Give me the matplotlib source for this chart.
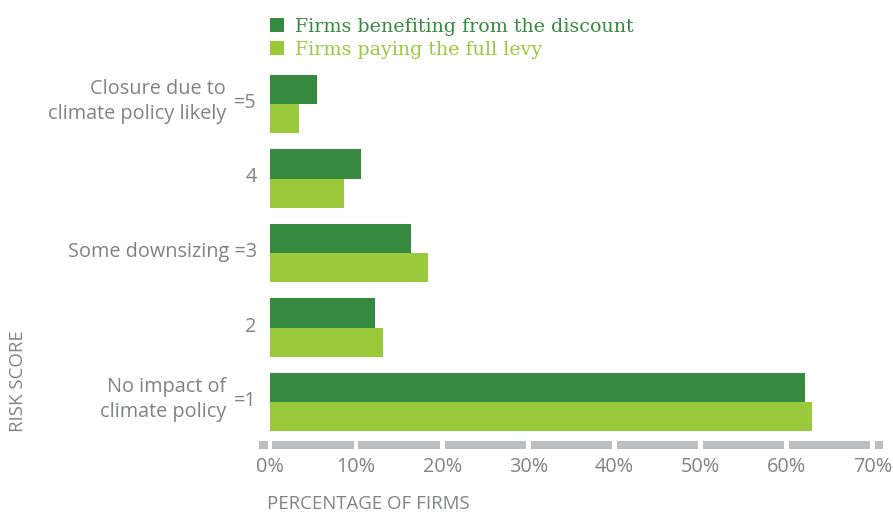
import matplotlib
matplotlib.use("Agg")
import matplotlib.pyplot as plt
from matplotlib.patches import Patch
from matplotlib.transforms import blended_transform_factory, ScaledTranslation

# Risk scores, top to bottom
score_labels = ["=5", "4", "Some downsizing =3", "2", "=1"]
score_notes = ["Closure due to\nclimate policy likely", "", "", "", "No impact of\nclimate policy"]
discount = [5.5, 10.6, 16.4, 12.2, 62.1]     # Firms benefiting from the discount (%)
full_levy = [3.4, 8.6, 18.4, 13.1, 62.9]     # Firms paying the full levy (%)
x_ticks = [0, 10, 20, 30, 40, 50, 60, 70]
series_names = ["Firms benefiting from the discount", "Firms paying the full levy"]

DARK = "#358a3f"
LIGHT = "#9aca3c"
GREY_TXT = "#808285"
GREY_AX = "#bcbec0"
SANS = ["Open Sans", "DejaVu Sans"]
SERIF = ["DejaVu Serif"]
FS = 14.3

W, H = 893, 514
fig = plt.figure(figsize=(W / 100, H / 100), dpi=100)
ax = fig.add_axes([270 / W, 1 - 439.25 / H, (872.7 - 270) / W, 372.5 / H])

n = len(score_labels)
ypos = [n - 1 - i for i in range(n)]
h = 0.395
ax.barh([y + h / 2 for y in ypos], discount, height=h, color=DARK, linewidth=0)
ax.barh([y - h / 2 for y in ypos], full_levy, height=h, color=LIGHT, linewidth=0)

ax.set_xlim(0, 70)
ax.set_ylim(-0.5, n - 0.5)
for s in ax.spines.values():
    s.set_visible(False)

ax.set_xticks(x_ticks)
ax.set_xticklabels([f"{t}%" for t in x_ticks], family=SANS, fontsize=FS, color=GREY_TXT)
ax.tick_params(axis="x", length=0, pad=12.5)
ax.set_yticks(ypos)
ax.set_yticklabels(score_labels, family=SANS, fontsize=FS, color=GREY_TXT)
ax.tick_params(axis="y", length=0, pad=9.5)
lift = ScaledTranslation(0, 3.5 / 100, fig.dpi_scale_trans)
for lbl in ax.get_yticklabels():
    lbl.set_transform(lbl.get_transform() + lift)

# Segmented grey axis bar with gaps at each tick
tr = blended_transform_factory(ax.transData, ax.transAxes)
yb = -5.75 / 372.5
gap = 0.27
edges = [-1.28] + x_ticks + [71.2]
for a, b in zip(edges[:-1], edges[1:]):
    lo = a if a == edges[0] else a + gap
    hi = b if b == edges[-1] else b - gap
    ax.plot([lo, hi], [yb, yb], transform=tr, color=GREY_AX, lw=5.8,
            solid_capstyle="butt", clip_on=False)

# Descriptive notes next to the scores
ytr = ax.get_yaxis_transform()
for y, note in zip(ypos, score_notes):
    if note:
        ax.annotate(note, xy=(0, y), xycoords=ytr, xytext=(-44 * 0.72, 2.5 * 0.72),
                    textcoords="offset points", ha="right", va="center",
                    family=SANS, fontsize=FS, color=GREY_TXT, linespacing=1.28)

# Legend
handles = [Patch(facecolor=DARK, edgecolor="none"), Patch(facecolor=LIGHT, edgecolor="none")]
leg = fig.legend(handles, series_names, loc="upper left",
                 bbox_to_anchor=(270 / W, 1 - 18 / H), frameon=False,
                 prop={"family": SERIF, "size": 13.7}, handlelength=0.75,
                 handleheight=0.75, handletextpad=0.55, labelspacing=0.25,
                 borderpad=0, borderaxespad=0)
for txt, c in zip(leg.get_texts(), [DARK, LIGHT]):
    txt.set_color(c)

fig.text(267 / W, 1 - 509 / H, "PERCENTAGE OF FIRMS", ha="left", va="baseline",
         family=SANS, fontsize=13.4, color=GREY_TXT)
fig.text(18 / W, 1 - 432 / H, "RISK SCORE", ha="center", va="bottom", rotation=90,
         family=SANS, fontsize=13.4, color=GREY_TXT)

fig.savefig("out.png", dpi=100)
